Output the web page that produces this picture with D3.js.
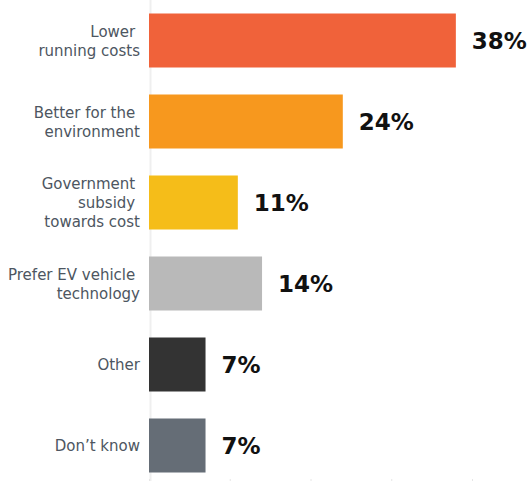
<!DOCTYPE html>
<html>
<head>
<meta charset="utf-8">
<script src="https://cdn.jsdelivr.net/npm/d3@7"></script>
<style>
  html, body { margin: 0; padding: 0; background: #ffffff; }
  svg { display: block; }
  .cat { font-family: "DejaVu Sans", sans-serif; font-size: 15px; fill: #4d5661; white-space: pre; }
  .val { font-family: "DejaVu Sans", sans-serif; font-size: 23px; font-weight: bold; fill: #111111; }
</style>
</head>
<body>
<svg id="chart" width="528" height="481"></svg>
<script>
// Reasons for choosing an electric vehicle (share of respondents, %)
const categories = [
  ["Lower ", "running costs"],
  ["Better for the ", "environment"],
  ["Government ", "subsidy ", "towards cost"],
  ["Prefer EV vehicle ", "technology"],
  ["Other"],
  ["Don\u2019t know"]
];
const values = [38, 24, 11, 14, 7, 7];
const colors = ["#f0623a", "#f7981e", "#f5bd19", "#b9b9b9", "#333333", "#656d76"];
const xTicks = [0, 10, 20, 30, 40];

const W = 528, H = 481;
const svg = d3.select("#chart");

const keys = categories.map(c => c.join(""));

const x = d3.scaleLinear().domain([0, 40]).range([149, 472]);
const y = d3.scaleBand().domain(keys).range([0, 486]).paddingInner(1 / 3).paddingOuter(1 / 6);

// faint baseline of the value axis
svg.append("line")
  .attr("x1", x(0) + 1.5).attr("x2", x(0) + 1.5)
  .attr("y1", 0).attr("y2", H)
  .attr("stroke", "#efefef").attr("stroke-width", 2);

// small tick marks along the bottom
const xAxis = svg.append("g")
  .attr("transform", `translate(0,${H - 2})`)
  .call(d3.axisBottom(x).tickValues(xTicks).tickSize(6).tickFormat(""));
xAxis.select(".domain").remove();
xAxis.selectAll(".tick line").attr("stroke", "#e6e6e6");

const rows = svg.append("g").selectAll("g")
  .data(keys)
  .join("g");

rows.append("rect")
  .attr("x", x(0))
  .attr("y", d => y(d))
  .attr("width", (d, i) => x(values[i]) - x(0))
  .attr("height", y.bandwidth())
  .attr("fill", (d, i) => colors[i]);

// category labels, right-aligned against the axis
rows.each(function (d, i) {
  const lines = categories[i];
  const cy = y(d) + y.bandwidth() / 2;
  const lh = 19;
  const t = d3.select(this).append("text")
    .attr("class", "cat")
    .attr("text-anchor", "end");
  lines.forEach((ln, j) => {
    t.append("tspan")
      .attr("x", 140)
      .attr("y", cy + (j - (lines.length - 1) / 2) * lh + 5.5)
      .text(ln);
  });
});

// value labels at the end of each bar
rows.append("text")
  .attr("class", "val")
  .attr("x", (d, i) => x(values[i]) + 16)
  .attr("y", d => y(d) + y.bandwidth() / 2 + 8.5)
  .text((d, i) => values[i] + "%");
</script>
</body>
</html>
